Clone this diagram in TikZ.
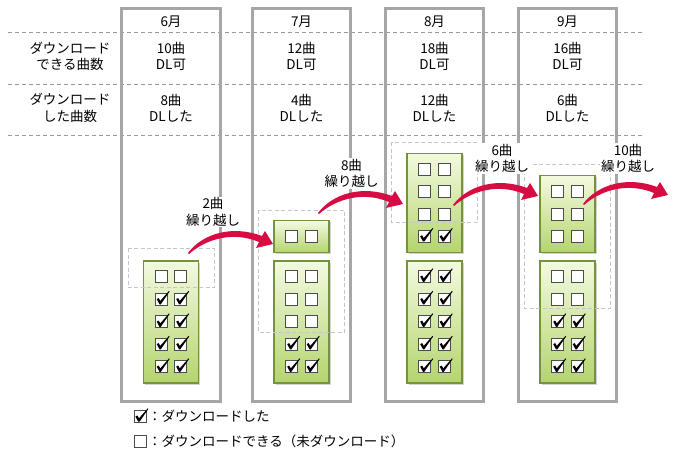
\documentclass[tikz,border=0pt]{standalone}
\usepackage{fontspec}
\setmainfont{Noto Sans CJK JP}
\usetikzlibrary{shadows}
\definecolor{colline}{RGB}{166,166,166}
\definecolor{boxtop}{RGB}{243,250,224}
\definecolor{boxbot}{RGB}{180,212,110}
\definecolor{boxedge}{RGB}{118,146,60}
\definecolor{carryred}{RGB}{214,12,66}
\tikzset{
	colbox/.style={draw=colline,line width=3pt},
	rowline/.style={draw=gray!80,line width=0.7pt,dash pattern=on 4pt off 3pt},
	keepbox/.style={draw=gray!45,line width=0.8pt,dash pattern=on 4pt off 2.5pt},
	greenbox/.style={draw=boxedge,line width=1.2pt,top color=boxtop,bottom color=boxbot,
		drop shadow={shadow xshift=1.5pt,shadow yshift=-1.5pt,opacity=.35}},
	songkey/.style={draw=black!70,fill=white,line width=0.8pt},
	txt/.style={font=\fontsize{13.5}{16.5}\selectfont,align=center,inner sep=1pt},
}
\begin{document}
\begin{tikzpicture}[x=1pt,y=-1pt]
	\useasboundingbox (0,0) rectangle (673,458);
	\def\hw{49.3}%nửa bề rộng cột
	\def\rowh{22.5}%khoảng cách ô
	\def\songbox(#1,#2){\draw[songkey] (#1-6,#2-6) rectangle (#1+6,#2+6);}
	\def\songdone(#1,#2){
		\songbox(#1,#2)
		\fill[shift={(#1,#2)}] (-4.6,-0.2)--(-2.6,-1.2)--(-1.0,1.6)--(7.8,-8.4)--(8.4,-7.8)--(-0.4,5)--(-1.8,5)--cycle;
	}
	\def\stack(#1,#2,#3,#4){
		\pgfmathtruncatemacro{\nn}{#3+#4}
		\pgfmathsetmacro{\hh}{\rowh*\nn+9.5}
		\draw[greenbox] (#1-27.5,#2) rectangle (#1+27.5,#2+\hh);
		\foreach \i in {1,...,\nn}{
			\pgfmathsetmacro{\yy}{#2+15.75+\rowh*(\i-1)}
			\ifnum\i>#3 \songdone(#1-9.75,\yy)\songdone(#1+9.75,\yy)
			\else \songbox(#1-9.75,\yy)\songbox(#1+9.75,\yy)\fi
		}
	}
	\def\carry(#1){
		\fill[carryred,shift={(#1)}] (0,0) .. controls (15,-20) and (45,-28) .. (74,-17)
			--(77,-22)--(85,-9)--(68,-5)--(71,-11) .. controls (45,-22) and (18,-14) .. (1,1)--cycle;
	}
	\foreach \y in {32.7,84.3,135.7}
		\draw[rowline] (8,\y)--(643,\y);
	\node[txt] (lab1) at (70,56.5) {ダウンロード\\できる曲数};
	\node[txt] (lab2) at (70,108) {ダウンロード\\した曲数};
	\foreach \cx/\mo/\av/\dl in {171/6/10/8,301.5/7/12/4,434.5/8/18/12,567.5/9/16/6}{
		\draw[colbox] (\cx-\hw,8) rectangle (\cx+\hw,401);
		\node[txt] (mon\mo) at (\cx,22) {{\mo}月};
		\node[txt] (av\mo) at (\cx,56.5) {{\av}曲\\DL可};
		\node[txt] (dl\mo) at (\cx,108) {{\dl}曲\\DLした};
	}
	\stack(171,261,1,4)
	\stack(301.5,220.7,1,0)
	\stack(301.5,261,3,2)
	\stack(434.5,153.2,3,1)
	\stack(434.5,261,0,5)
	\stack(567.5,175.7,3,0)
	\stack(567.5,261,2,3)
	\draw[keepbox] (171-43,248.3) rectangle (171+43,287.7);
	\draw[keepbox] (301.5-43,210) rectangle (301.5+43,332.3);
	\draw[keepbox] (434.5-43,142.3) rectangle (434.5+43,222.7);
	\draw[keepbox] (567.5-43,164) rectangle (567.5+43,308.3);
	\coordinate (t1) at (188,253);
	\coordinate (t2) at (318,213);
	\coordinate (t3) at (453,205);
	\coordinate (t4) at (583,204);
	\foreach \t in {t1,t2,t3,t4} \carry(\t);
	\node[txt,fill=white] (k1) at (213,212) {2曲\\繰り越し};
	\node[txt,fill=white] (k2) at (351.5,173.5) {8曲\\繰り越し};
	\node[txt,fill=white] (k3) at (502,158.5) {6曲\\繰り越し};
	\node[txt,fill=white] (k4) at (628,158.5) {10曲\\繰り越し};
	% 凡例
	\songdone(140,416.7)
	\songbox(140,441.7)
	\node[txt,anchor=west,inner sep=0pt] (leg1) at (148,416.7) {：ダウンロードした};
	\node[txt,anchor=west,inner sep=0pt] (leg2) at (148,441.7) {：ダウンロードできる（未ダウンロード）};
\end{tikzpicture}
\end{document}
